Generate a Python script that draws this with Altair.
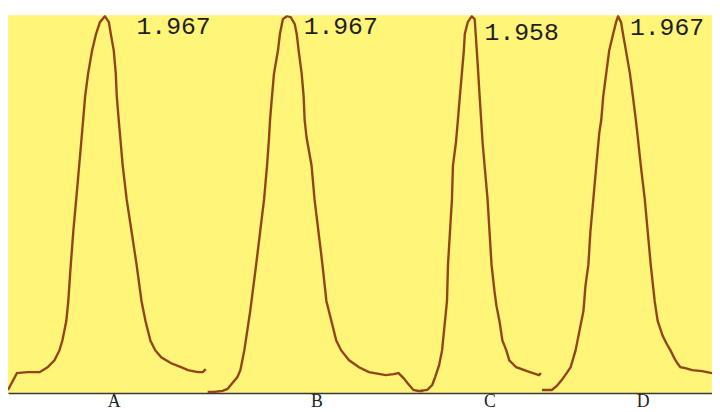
import altair as alt
import pandas as pd

# ---- data (sample position, signal) ----
a_x = [0, 9, 20, 32, 40, 47, 52, 55, 59, 61, 63, 66, 69, 72, 74, 76, 78, 81, 85, 89, 93, 98,
       102, 104, 107, 109, 110, 112, 114, 116, 120, 125, 130, 135, 139, 144, 149, 155, 165, 175, 182, 192, 197, 200]
a_y = [3, 20, 21, 21, 26, 33, 43, 53, 73, 93, 123, 163, 196, 230, 253, 276, 300, 323, 346, 363, 375, 381,
       375, 363, 346, 323, 300, 276, 253, 230, 196, 163, 130, 93, 73, 53, 43, 36, 30, 26, 23, 21, 21, 24]

b_x = [202, 208, 217, 222, 227, 232, 235, 239, 242, 245, 251, 255, 259, 262, 264, 265, 267, 269, 273, 275, 278, 282,
       286, 290, 292, 294, 297, 299, 300, 302, 307, 310, 314, 318, 322, 327, 332, 337, 345, 355, 365, 382, 390, 395, 400, 404, 410, 415, 420]
b_y = [1, 1, 2, 4, 10, 16, 23, 43, 63, 83, 130, 163, 196, 230, 258, 276, 300, 323, 346, 363, 378, 381,
       380, 373, 363, 346, 323, 300, 276, 258, 230, 196, 163, 130, 93, 73, 53, 43, 33, 26, 21, 18, 19, 20, 15, 10, 3, 2, 2]

c_x = [417, 424, 429, 432, 436, 439, 442, 444, 445, 447, 449, 450, 453, 455, 457, 459, 461, 462, 465, 469,
       472, 473, 475, 477, 480, 482, 485, 487, 489, 492, 494, 497, 500, 504, 507, 514, 525, 537, 539]
c_y = [2, 3, 8, 16, 28, 43, 73, 93, 130, 163, 196, 230, 253, 276, 300, 323, 346, 363, 375, 381,
       378, 363, 333, 300, 253, 230, 196, 163, 130, 103, 88, 73, 53, 43, 33, 26, 22, 18, 20]

d_x = [540, 550, 555, 560, 565, 569, 574, 578, 582, 584, 587, 589, 592, 595, 598, 600, 602, 605, 608, 612,
       615, 617, 620, 622, 625, 629, 632, 635, 637, 640, 644, 647, 650, 654, 657, 662, 666, 670, 674, 677, 680, 685, 692, 702, 712]
d_y = [3, 3, 7, 13, 20, 26, 43, 63, 83, 108, 130, 163, 196, 230, 263, 276, 300, 323, 346, 363,
       375, 381, 375, 363, 346, 323, 300, 276, 258, 230, 196, 163, 130, 93, 73, 58, 50, 43, 35, 30, 26, 25, 23, 22, 20]

series_names = ["A", "B", "C", "D"]
peak_labels = ["1.967", "1.967", "1.958", "1.967"]
peak_label_x = [130, 299, 482, 629]
peak_label_y = [371, 371, 365, 370]
axis_label_at = [107, 312, 487, 642]

rows = []
for name, xs, ys in zip(series_names, [a_x, b_x, c_x, d_x], [a_y, b_y, c_y, d_y]):
    for i, (xv, yv) in enumerate(zip(xs, ys)):
        rows.append({"series": name, "x": xv, "y": yv, "i": i})
df = pd.DataFrame(rows)

lab = pd.DataFrame({"series": series_names, "text": peak_labels,
                    "x": peak_label_x, "y": peak_label_y})

label_expr = " : ".join(
    f"datum.value == {p} ? '{n}'" for p, n in zip(axis_label_at, series_names)
) + " : ''"

xscale = alt.Scale(domain=[0, 712], nice=False, zero=False)
yscale = alt.Scale(domain=[0, 382], nice=False, zero=False)

lines = alt.Chart(df).mark_line(
    color="#92441a", strokeWidth=2.4, clip=True, interpolate="linear"
).encode(
    x=alt.X("x:Q", scale=xscale,
            axis=alt.Axis(values=axis_label_at, labelExpr=label_expr, title=None,
                          ticks=False, grid=False, domainColor="#3a3a3a", domainWidth=1.6,
                          labelFont="Liberation Serif", labelFontSize=18, labelColor="#222222",
                          labelPadding=0, labelBaseline="top", labelFlush=False)),
    y=alt.Y("y:Q", scale=yscale, axis=None),
    detail="series:N",
    order="i:Q",
)

texts = alt.Chart(lab).mark_text(
    align="left", baseline="middle", font="Liberation Mono", fontSize=25, color="#1e1e1e"
).encode(
    x=alt.X("x:Q", scale=xscale),
    y=alt.Y("y:Q", scale=yscale),
    text="text:N",
)

chart = alt.layer(lines, texts).properties(
    width=712, height=382,
    padding={"left": 0, "top": 3, "right": 0, "bottom": 0},
    background="white",
).configure_view(fill="#fff578", stroke=None)

chart.save("out.html", embed_options={"renderer": "svg", "actions": False})
